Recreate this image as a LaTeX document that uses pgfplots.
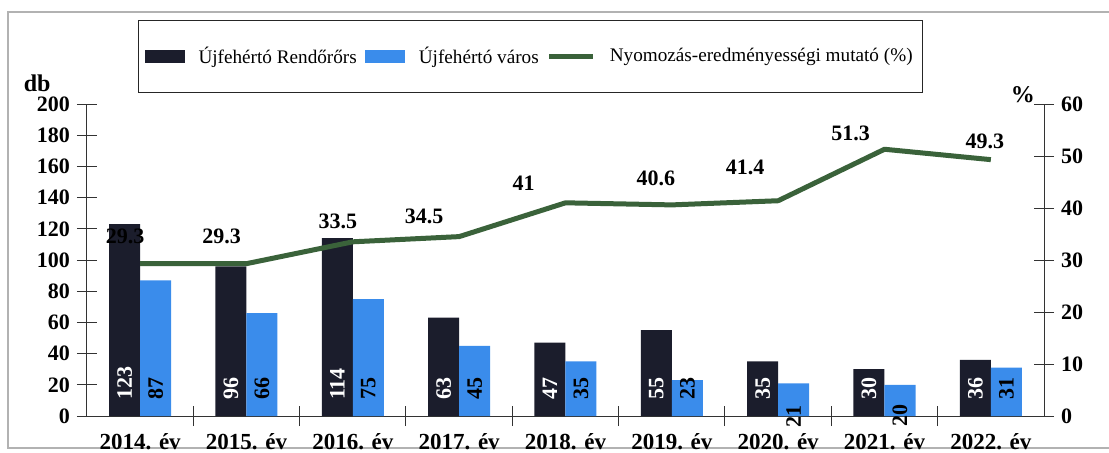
\documentclass[border=0pt]{standalone}
\usepackage{pgfplots}
\pgfplotsset{compat=1.18}
\usepackage{pgfplotstable}
\usepackage{fontspec}
\setmainfont{Liberation Serif}

\definecolor{rendor}{RGB}{27,29,44}
\definecolor{varos}{RGB}{58,140,235}
\definecolor{mutato}{RGB}{58,98,58}

% db values, vs = shift of the value label of the blue bar
\pgfplotstableread{
x  rendor varos vs
0  123    87    4.5
1  96     66    4.5
2  114    75    4.5
3  63     45    4.5
4  47     35    4.5
5  55     23    4.5
6  35     21    -9.5
7  30     20    -9
8  36     31    4.5
}\barsdata

% percent line, dx/dy = label offset in pt
\pgfplotstableread{
x  mutato dx    dy
0  29.3   -7.5  13.5
1  29.3   -12.5 13.5
2  33.5   -7.5  10
3  34.5   -17.5 10
4  41     -21   10
5  40.6   -8    13.5
6  41.4   -16.5 16.5
7  51.3   -17   8
8  49.3   -3    9
}\mutatodata

\newcommand{\numfont}{\fontsize{11}{13}\selectfont\bfseries}

\begin{document}
\begin{tikzpicture}
\useasboundingbox (0,0) rectangle (554.5pt,-226pt);
\clip (0,0) rectangle (554.5pt,-226pt);
\draw[gray!60, line width=0.8pt] (560pt,-6pt) -- (4pt,-6pt) -- (4pt,-224pt) -- (560pt,-224pt);

\begin{axis}[
  at={(43.5pt,-208pt)}, anchor=south west,
  scale only axis, width=478.5pt, height=156pt,
  xmin=-0.5, xmax=8.5, ymin=0, ymax=200,
  axis x line*=bottom, axis y line*=left,
  axis line style={black!80, line width=0.5pt},
  ybar=0pt, bar width=15.5pt,
  xtick={0,...,8},
  xticklabels={2014. év,2015. év,2016. év,2017. év,2018. év,2019. év,2020. év,2021. év,2022. év},
  minor xtick={0.5,1.5,...,7.5},
  major x tick style={draw=none},
  ytick={0,20,...,200},
  tick align=center, major tick length=10pt, minor tick length=10pt,
  tick style={black!80, line width=0.5pt},
  /pgf/number format/assume math mode=true,
  yticklabel style={font=\numfont},
  xticklabel style={font=\fontsize{11.5}{13}\selectfont\bfseries},
  ylabel={db},
  ylabel style={at={(axis description cs:-0.052,1.067)}, rotate=-90, anchor=center, font=\fontsize{12}{14}\selectfont\bfseries},
  legend columns=3,
  legend style={at={(axis description cs:0.0533,1.269)}, anchor=north west,
    draw=black!85, line width=0.5pt, fill=white,
    font=\fontsize{9.6}{12}\selectfont,
    inner xsep=3pt, inner ysep=11pt,
    /tikz/every odd column/.append style={column sep=5pt},
    /tikz/every even column/.append style={column sep=2pt}},
  legend cell align=left,
]
\addplot[fill=rendor, draw=none,
  legend image code/.code={\fill[rendor] (0pt,-3.2pt) rectangle (20pt,3.2pt);},
  nodes near coords,
  visualization depends on={y \as \rawy},
  every node near coord/.append style={shift={(axis direction cs:0,-\rawy)}, yshift=4.5pt,
    rotate=90, anchor=west, text=white, font=\numfont}]
  table[x=x, y=rendor] {\barsdata};
\addlegendentry{Újfehértó Rendőrőrs}
\addplot[fill=varos, draw=none,
  legend image code/.code={\fill[varos] (0pt,-3.2pt) rectangle (20pt,3.2pt);},
  nodes near coords,
  visualization depends on={y \as \rawy},
  visualization depends on={\thisrow{vs} \as \vshift},
  every node near coord/.append style={shift={(axis direction cs:0,-\rawy)}, yshift=\vshift pt,
    rotate=90, anchor=west, text=black, font=\numfont}]
  table[x=x, y=varos] {\barsdata};
\addlegendentry{Újfehértó város}
\addlegendimage{mutato, line width=2.5pt, legend image code/.code={\draw[mutato, line width=2.5pt] (0pt,0pt) -- (22pt,0pt);}}
\addlegendentry{Nyomozás-eredményességi mutató (\%)}
\end{axis}

\begin{axis}[
  at={(43.5pt,-208pt)}, anchor=south west,
  scale only axis, width=478.5pt, height=156pt,
  xmin=-0.5, xmax=8.5, ymin=0, ymax=60,
  axis y line*=right, axis x line=none,
  axis line style={black!80, line width=0.5pt},
  ytick={0,10,...,60},
  tick align=center, major tick length=10pt,
  tick style={black!80, line width=0.5pt},
  /pgf/number format/assume math mode=true,
  yticklabel style={font=\numfont},
  ylabel={\%},
  ylabel style={at={(axis description cs:0.978,1.03)}, rotate=-90, anchor=center, font=\fontsize{12}{14}\selectfont\bfseries},
]
\addplot[mutato, line width=2.5pt, line join=round, mark=none,
  nodes near coords,
  visualization depends on={\thisrow{dx} \as \labdx},
  visualization depends on={\thisrow{dy} \as \labdy},
  every node near coord/.append style={xshift=\labdx pt, yshift=\labdy pt,
    anchor=center, text=black, font=\numfont}]
  table[x=x, y=mutato] {\mutatodata};
\end{axis}
\end{tikzpicture}
\end{document}
